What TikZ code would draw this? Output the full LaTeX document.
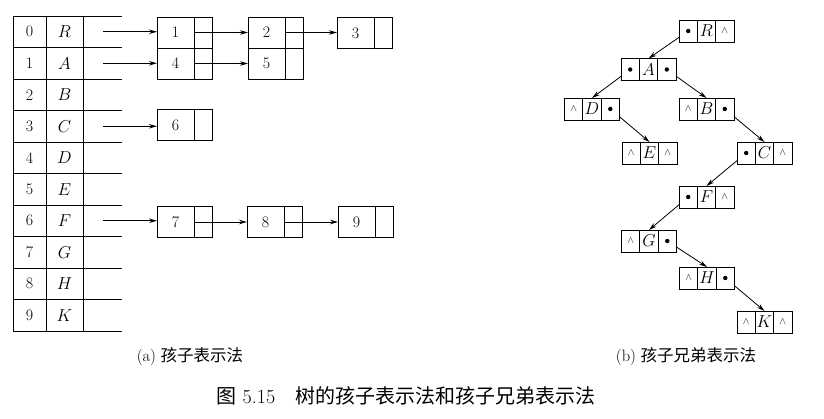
\documentclass[tikz,border=0pt]{standalone}
\usepackage{fontspec}
\newfontfamily\cjk{Noto Sans CJK SC}
\usetikzlibrary{positioning,arrows.meta}
\newcommand{\nullmark}{{\fontsize{10}{12}\selectfont$\wedge$}}

\begin{document}
\begin{tikzpicture}[x=1pt, y=-1pt, line width=0.9pt,
  every node/.style={font=\fontsize{16}{19}\selectfont},
  cell/.style={rectangle, draw, inner sep=0pt, outer sep=0pt, minimum height=31.5pt},
  fld/.style={rectangle, draw, inner sep=0pt, outer sep=0pt, minimum width=37pt, minimum height=31pt},
  lnk/.style={rectangle, draw, inner sep=0pt, outer sep=0pt, minimum width=18pt, minimum height=31pt},
  tcell/.style={rectangle, draw, inner sep=0pt, outer sep=0pt, minimum width=18.3pt, minimum height=22pt},
  arrow/.style={-{Stealth[length=8pt, width=4.5pt]}},
  tarrow/.style={line width=0.8pt, -{Stealth[length=8pt, width=4.5pt]}},
  subcap/.style={font=\fontsize{16.5}{20}\selectfont}
]
  \useasboundingbox (0,0) rectangle (824,418);

  % (a) head table
  \foreach \i/\v in {0/R,1/A,2/B,3/C,4/D,5/E,6/F,7/G,8/H,9/K} {
    \node[cell, minimum width=33pt] (n\i) at (29.5, 31.75+31.5*\i) {\i};
    \node[cell, minimum width=37pt] (d\i) at (64.5, 31.75+31.5*\i) {$\v$};
    \coordinate (h\i) at (103, 31.75+31.5*\i);
    \draw (d\i.north east) -- ++(39,0);
  }
  \draw (d9.south east) -- ++(39,0);

  % child lists
  \node[fld] (c1) at (175.5,32.5) {1};
  \node[lnk, right=0pt of c1] (p1) {};
  \node[fld] (c4) at (175.5,63.5) {4};
  \node[lnk, right=0pt of c4] (p4) {};
  \node[fld] (c2) at (266.5,32.5) {2};
  \node[lnk, right=0pt of c2] (p2) {};
  \node[fld] (c5) at (266.5,63.5) {5};
  \node[lnk, right=0pt of c5] (p5) {};
  \node[fld] (c3) at (355.5,33) {3};
  \node[lnk, right=0pt of c3] (p3) {};
  \node[fld] (c6) at (175.5,125) {6};
  \node[lnk, right=0pt of c6] (p6) {};
  \node[fld] (c7) at (175.5,222) {7};
  \node[lnk, right=0pt of c7] (p7) {};
  \node[fld] (c8) at (265.5,222) {8};
  \node[lnk, right=0pt of c8] (p8) {};
  \node[fld] (c9) at (356.5,222) {9};
  \node[lnk, right=0pt of c9] (p9) {};

  \draw[arrow] (h0) -- (h0 -| c1.west);
  \draw[arrow] (h1) -- (h1 -| c4.west);
  \draw[arrow] (h3) -- (h3 -| c6.west);
  \draw[arrow] (h6) -- (h6 -| c7.west);
  \draw[arrow] (p1.west) -- (c2.west);
  \draw[arrow] (p4.west) -- (c5.west);
  \draw[arrow] (p2.west) -- (p2.west -| c3.west);
  \draw[arrow] (p7.west) -- (c8.west);
  \draw[arrow] (p8.west) -- (c9.west);

  % (b) child-sibling tree
  \foreach \n/\x/\y/\l/\r in {R/706.5/31/{}/\nullmark, A/648.5/69.5/{}/{},
      D/592/109/\nullmark/{}, B/706.5/109/\nullmark/{}, E/649.5/153/\nullmark/\nullmark,
      C/764.5/153/{}/\nullmark, F/706.5/197/{}/\nullmark, G/649/241/\nullmark/{},
      H/707/278/\nullmark/{}, K/764.5/322/\nullmark/\nullmark} {
    \node[tcell] (\n) at (\x,\y) {$\n$};
    \node[tcell, left=0pt of \n] (l\n) {\l};
    \node[tcell, right=0pt of \n] (r\n) {\r};
  }
  \foreach \a/\b in {lR/A, lA/D, rA/B, rD/E, rB/C, lC/F, lF/G, rG/H, rH/K} {
    \fill (\a) circle (2.2);
    \draw[tarrow] (\a) -- (\b.north);
  }

  % captions
  \node[subcap] (capa) at (190,357) {(a)\;{\cjk 孩子表示法}};
  \node[subcap] (capb) at (686,357) {(b)\;{\cjk 孩子兄弟表示法}};
  \node[font=\fontsize{20}{24}\selectfont] (fig) at (406,396)
    {{\cjk 图}\hspace{6pt}5.15\quad{\cjk 树的孩子表示法和孩子兄弟表示法}};
\end{tikzpicture}
\end{document}
